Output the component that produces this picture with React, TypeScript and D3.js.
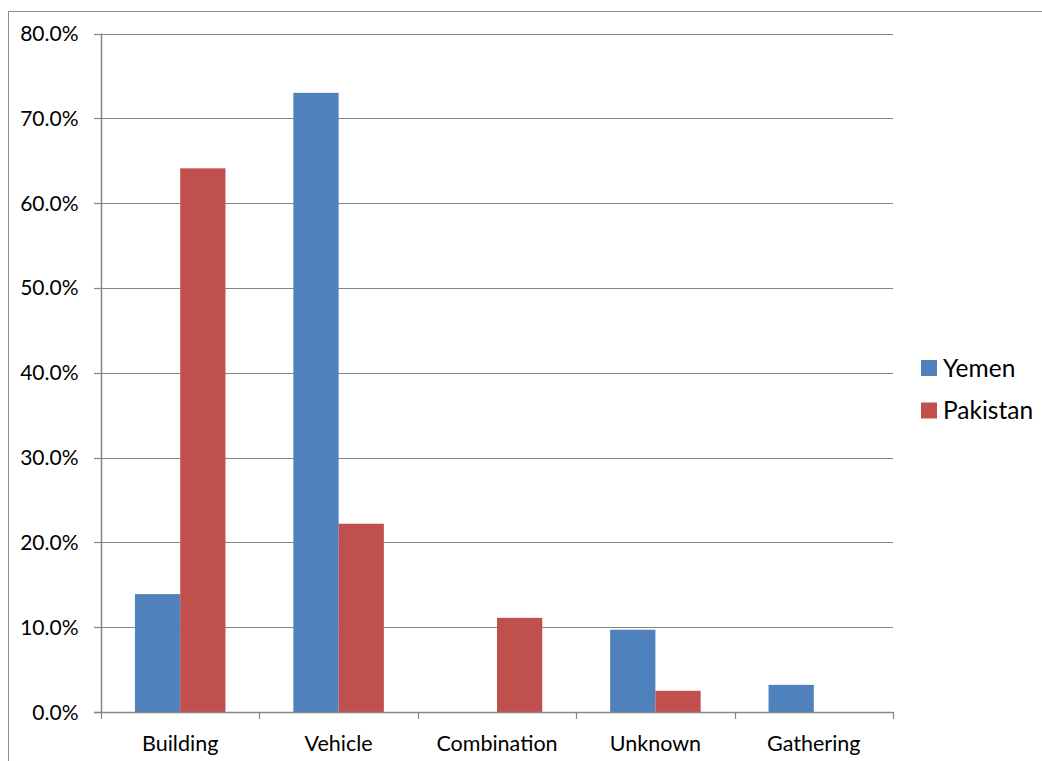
import React from "react";
import * as d3 from "d3";

const categories = ["Building", "Vehicle", "Combination", "Unknown", "Gathering"];
const seriesNames = ["Yemen", "Pakistan"];
const yemen = [0.139, 0.730, 0, 0.097, 0.032];
const pakistan = [0.641, 0.222, 0.111, 0.025, 0];
const yTicks = [0, 0.1, 0.2, 0.3, 0.4, 0.5, 0.6, 0.7, 0.8];
const colors = ["#4F81BD", "#C0504D"];

const W = 1042, H = 761;
const left = 101, right = 893, top = 33.5, bottom = 712;
const FONT = "Lato, 'Open Sans', sans-serif";

export default function App() {
  const x0 = d3.scaleBand<string>().domain(categories).range([left, right]).paddingInner(0).paddingOuter(0);
  const bw = x0.bandwidth();
  const inner = bw / 3.5; // gap 150%
  const y = d3.scaleLinear().domain([0, 0.8]).range([bottom, top]);
  const fmt = d3.format(".1%");
  const series = [yemen, pakistan];
  const grid = "#868686";
  return (
    <svg width={W} height={H} style={{ position: "absolute", left: 0, top: 0, background: "#fff" }} fontFamily={FONT}>
      <rect x={8.5} y={11.5} width={1100} height={800} fill="#fff" stroke="#8c8c8c" strokeWidth={1} />
      {yTicks.map((t) => (
        <g key={t}>
          {t > 0 && <line x1={left} x2={right} y1={Math.round(y(t)) + 0.5} y2={Math.round(y(t)) + 0.5} stroke={grid} strokeWidth={1.2} />}
          <line x1={94} x2={left} y1={Math.round(y(t)) + 0.5} y2={Math.round(y(t)) + 0.5} stroke={grid} strokeWidth={1.2} />
          <text x={78.5} y={y(t)} dy="0.36em" textAnchor="end" fontSize={21} fill="#000">{fmt(t)}</text>
        </g>
      ))}
      {categories.map((c, i) => (
        <g key={c}>
          {series.map((s, k) => {
            const v = s[i];
            if (!v) return null;
            const bx = (x0(c) as number) + inner * 0.75 + k * inner;
            return <rect key={k} x={bx} y={y(v)} width={inner} height={bottom - y(v)} fill={colors[k]} />;
          })}
          <text x={(x0(c) as number) + bw / 2} y={751} textAnchor="middle" fontSize={21.5} fill="#000">{c}</text>
        </g>
      ))}
      {d3.range(categories.length + 1).map((i) => {
        const xx = Math.round(left + i * bw) + 0.5;
        return <line key={i} x1={xx} x2={xx} y1={bottom} y2={719} stroke={grid} strokeWidth={1.2} />;
      })}
      <line x1={left + 0.5} x2={left + 0.5} y1={top} y2={bottom} stroke={grid} strokeWidth={1.5} />
      <line x1={94} x2={right} y1={bottom + 0.5} y2={bottom + 0.5} stroke={grid} strokeWidth={1.5} />
      {seriesNames.map((n, k) => (
        <g key={n}>
          <rect x={921} y={360 + k * 42.5} width={16} height={16} fill={colors[k]} />
          <text x={943} y={376.5 + k * 42.5} fontSize={24.5} fill="#000">{n}</text>
        </g>
      ))}
    </svg>
  );
}
